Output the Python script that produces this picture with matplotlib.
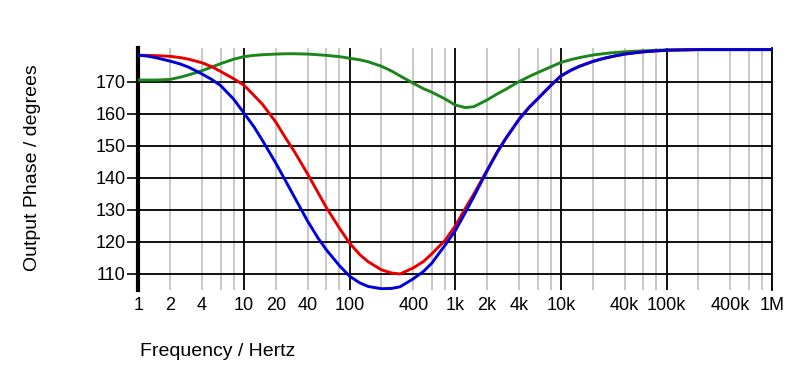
import matplotlib
matplotlib.use("Agg")
import matplotlib.pyplot as plt
from matplotlib.ticker import LogLocator, FuncFormatter

plt.rcParams['font.family'] = ['Liberation Sans', 'DejaVu Sans']

# frequency points (Hz)
freq = [1, 1.25, 1.5, 2, 2.5, 3, 4, 5, 6, 8,
        10, 12.5, 15, 20, 25, 30, 40, 50, 60, 80,
        100, 125, 150, 200, 250, 300, 400, 500, 600, 800,
        1000, 1250, 1500, 2000, 2500, 3000, 4000, 5000, 6000, 8000,
        10000, 12500, 15000, 20000, 25000, 30000, 40000, 50000, 60000, 80000,
        100000, 200000, 400000, 1000000]

# output phase in degrees
phase_green = [170.5, 170.5, 170.5, 170.7, 171.4, 172.1, 173.4, 174.6, 175.6, 177.0,
               177.8, 178.2, 178.4, 178.6, 178.7, 178.7, 178.6, 178.4, 178.2, 177.8,
               177.3, 176.8, 176.2, 174.8, 173.3, 171.8, 169.5, 167.8, 166.7, 164.6,
               162.7, 161.9, 162.2, 164.3, 166.2, 167.6, 170.0, 171.6, 172.8, 174.6,
               176.0, 176.9, 177.5, 178.3, 178.7, 179.0, 179.3, 179.5, 179.6, 179.8,
               179.9, 180.0, 180.0, 180.0]
phase_red = [178.2, 178.2, 178.1, 177.9, 177.5, 177.0, 175.9, 174.6, 173.2, 170.9,
             168.9, 165.6, 162.9, 157.4, 152.2, 148.2, 141.2, 135.5, 130.8, 124.3,
             119.6, 116.0, 113.8, 111.3, 110.3, 110.0, 111.9, 113.9, 116.3, 120.5,
             125.0, 130.6, 135.0, 142.4, 148.2, 152.3, 158.2, 162.0, 164.6, 168.8,
             171.8, 173.6, 174.8, 176.3, 177.2, 177.8, 178.6, 179.0, 179.3, 179.6,
             179.8, 180.0, 180.0, 180.0]
phase_blue = [178.3, 177.9, 177.4, 176.4, 175.5, 174.5, 172.4, 170.6, 168.8, 164.5,
              160.2, 155.8, 151.6, 144.6, 138.8, 134.0, 126.5, 121.3, 117.6, 112.6,
              109.3, 107.2, 106.1, 105.4, 105.5, 106.0, 108.5, 110.8, 113.4, 119.0,
              123.5, 129.3, 134.2, 142.2, 148.0, 152.2, 158.2, 162.0, 164.6, 168.8,
              171.8, 173.6, 174.8, 176.3, 177.2, 177.8, 178.6, 179.0, 179.3, 179.6,
              179.8, 180.0, 180.0, 180.0]

yticks = [110, 120, 130, 140, 150, 160, 170]
xlabels = {1: "1", 2: "2", 4: "4", 10: "10", 20: "20", 40: "40", 100: "100", 400: "400",
           1e3: "1k", 2e3: "2k", 4e3: "4k", 1e4: "10k", 4e4: "40k", 1e5: "100k",
           4e5: "400k", 1e6: "1M"}

fig = plt.figure(figsize=(7.99, 3.83), dpi=100)
ax = fig.add_axes([0.1731, 0.2428, 0.7935, 0.6319])

ax.plot(freq, phase_green, color='#1b871b', lw=2.1, zorder=3)
ax.plot(freq, phase_red, color='#e80000', lw=2.1, zorder=3)
ax.plot(freq, phase_blue, color='#0000dd', lw=2.1, zorder=4)

ax.set_xscale('log')
ax.set_xlim(1, 1e6)
ax.set_ylim(105, 180.5)

ax.xaxis.set_major_locator(LogLocator(base=10, numticks=10))
ax.xaxis.set_minor_locator(LogLocator(base=10, subs=[2, 4, 6, 8], numticks=100))


def fmt(v, pos):
    for k, s in xlabels.items():
        if abs(v - k) < 1e-6 * k:
            return s
    return ""


ax.xaxis.set_major_formatter(FuncFormatter(fmt))
ax.xaxis.set_minor_formatter(FuncFormatter(fmt))
ax.tick_params(axis='x', which='both', length=0, pad=5, labelsize=13)

ax.set_yticks(yticks)
ax.tick_params(axis='y', length=8, width=1.2, pad=1, labelsize=13)

ax.grid(which='major', axis='both', color='black', lw=1.3, zorder=1)
ax.grid(which='minor', axis='x', color='#c4c4c4', lw=1.3, zorder=0)
ax.set_axisbelow(True)

for s in ['top', 'bottom']:
    ax.spines[s].set_visible(False)
ax.spines['left'].set_linewidth(3)
ax.spines['right'].set_linewidth(1.3)

fig.text(0.175, 0.081, "Frequency / Hertz", fontsize=14, ha='left', va='center')
fig.text(0.041, 0.563, "Output Phase / degrees", fontsize=14, rotation=90,
         ha='center', va='center')

fig.savefig("out.png", dpi=100)
